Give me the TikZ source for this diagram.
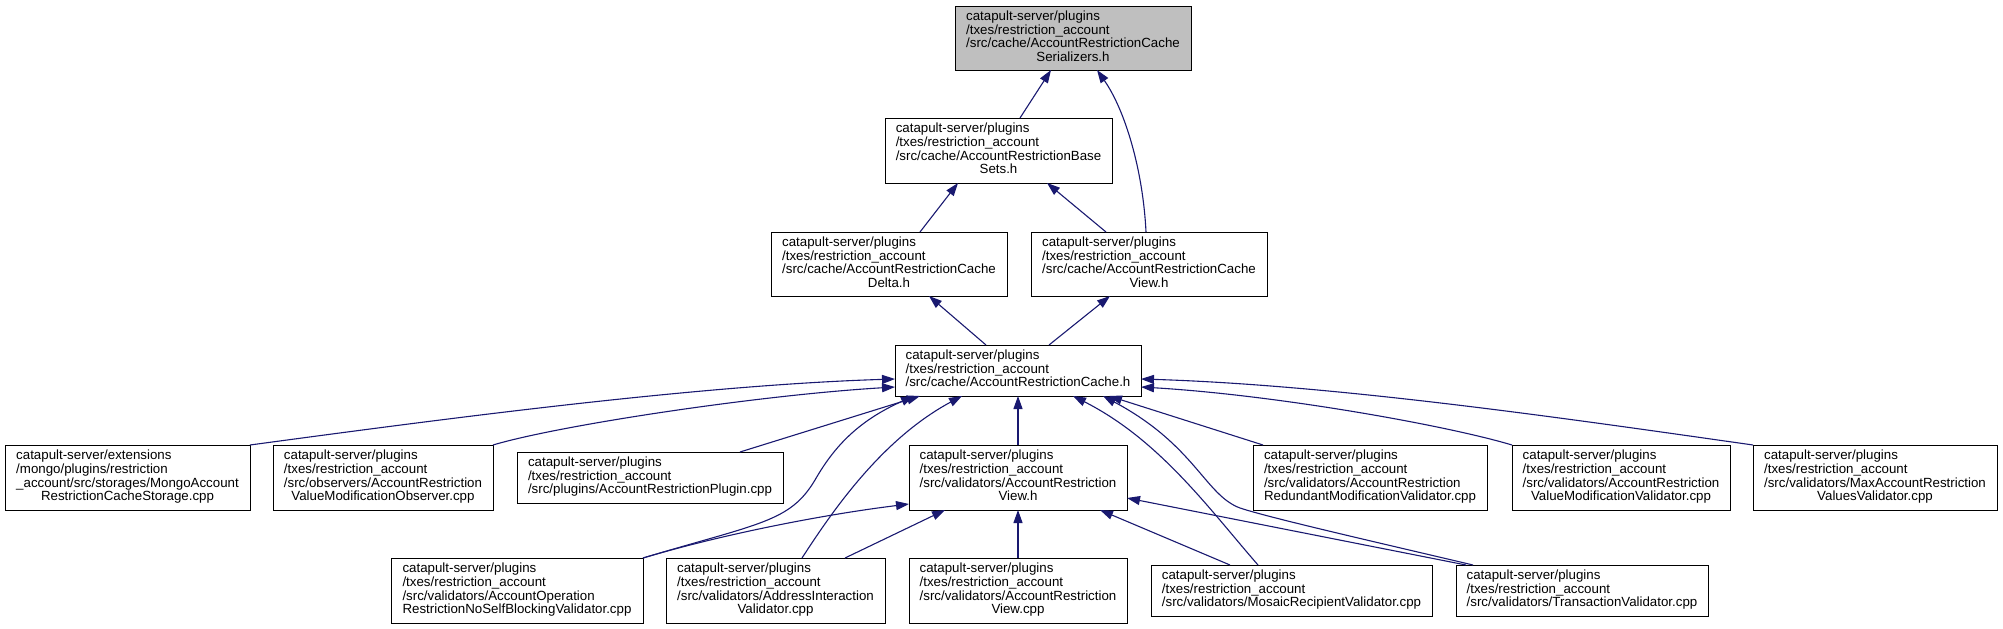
\documentclass[tikz,border=0pt]{standalone}
\usepackage{fontspec}
\setmainfont{Liberation Sans}
\usetikzlibrary{arrows.meta}
\definecolor{edgec}{HTML}{191970}
\definecolor{topgray}{HTML}{BFBFBF}
\newcommand\tb[1]{\begin{tabular}{@{}l@{}}#1\end{tabular}}
\newcommand\lc[1]{\multicolumn{1}{@{}c@{}}{#1}}
\begin{document}
\begin{tikzpicture}[x=1pt,y=-1pt,
  box/.style={draw=black, fill=white, line width=1pt, rectangle, inner sep=0pt, outer sep=0pt,
    font=\fontsize{13.3}{13.3}\selectfont},
  edge/.style={draw=edgec, line width=1.1pt, -{Triangle[length=13pt,width=9pt]}}]
\useasboundingbox (0,0) rectangle (2003,629);
% rank 1
\node[box, fill=topgray, minimum width=236pt, minimum height=64pt] (ser) at (1073,38)
  {\tb{catapult-server/plugins\\/txes/restriction\_account\\/src/cache/AccountRestrictionCache\\\lc{Serializers.h}}};
% rank 2
\node[box, minimum width=227pt, minimum height=65pt] (base) at (998.5,150.5)
  {\tb{catapult-server/plugins\\/txes/restriction\_account\\/src/cache/AccountRestrictionBase\\\lc{Sets.h}}};
% rank 3
\node[box, minimum width=236pt, minimum height=64pt] (delta) at (889,264)
  {\tb{catapult-server/plugins\\/txes/restriction\_account\\/src/cache/AccountRestrictionCache\\\lc{Delta.h}}};
\node[box, minimum width=236pt, minimum height=64pt] (cview) at (1149,264)
  {\tb{catapult-server/plugins\\/txes/restriction\_account\\/src/cache/AccountRestrictionCache\\\lc{View.h}}};
% rank 4
\node[box, minimum width=246pt, minimum height=51pt] (cache) at (1018,370.5)
  {\tb{catapult-server/plugins\\/txes/restriction\_account\\/src/cache/AccountRestrictionCache.h}};
% rank 5
\node[box, minimum width=245pt, minimum height=65pt] (mongo) at (127.5,477.5)
  {\tb{catapult-server/extensions\\/mongo/plugins/restriction\\\_account/src/storages/MongoAccount\\\lc{RestrictionCacheStorage.cpp}}};
\node[box, minimum width=220pt, minimum height=65pt] (obs) at (383,477.5)
  {\tb{catapult-server/plugins\\/txes/restriction\_account\\/src/observers/AccountRestriction\\\lc{ValueModificationObserver.cpp}}};
\node[box, minimum width=266pt, minimum height=51pt] (plug) at (650,477.5)
  {\tb{catapult-server/plugins\\/txes/restriction\_account\\/src/plugins/AccountRestrictionPlugin.cpp}};
\node[box, minimum width=218pt, minimum height=65pt] (vview) at (1018,477.5)
  {\tb{catapult-server/plugins\\/txes/restriction\_account\\/src/validators/AccountRestriction\\\lc{View.h}}};
\node[box, minimum width=234pt, minimum height=65pt] (redund) at (1370,477.5)
  {\tb{catapult-server/plugins\\/txes/restriction\_account\\/src/validators/AccountRestriction\\\lc{RedundantModificationValidator.cpp}}};
\node[box, minimum width=218pt, minimum height=65pt] (valmod) at (1621,477.5)
  {\tb{catapult-server/plugins\\/txes/restriction\_account\\/src/validators/AccountRestriction\\\lc{ValueModificationValidator.cpp}}};
\node[box, minimum width=244pt, minimum height=65pt] (maxv) at (1875,477.5)
  {\tb{catapult-server/plugins\\/txes/restriction\_account\\/src/validators/MaxAccountRestriction\\\lc{ValuesValidator.cpp}}};
% rank 6
\node[box, minimum width=252pt, minimum height=65pt] (noself) at (517,590.5)
  {\tb{catapult-server/plugins\\/txes/restriction\_account\\/src/validators/AccountOperation\\\lc{RestrictionNoSelfBlockingValidator.cpp}}};
\node[box, minimum width=219pt, minimum height=65pt] (addr) at (775.5,590.5)
  {\tb{catapult-server/plugins\\/txes/restriction\_account\\/src/validators/AddressInteraction\\\lc{Validator.cpp}}};
\node[box, minimum width=218pt, minimum height=65pt] (vcpp) at (1018,590.5)
  {\tb{catapult-server/plugins\\/txes/restriction\_account\\/src/validators/AccountRestriction\\\lc{View.cpp}}};
\node[box, minimum width=281pt, minimum height=51pt] (mosaic) at (1291.5,590.5)
  {\tb{catapult-server/plugins\\/txes/restriction\_account\\/src/validators/MosaicRecipientValidator.cpp}};
\node[box, minimum width=252pt, minimum height=51pt] (trans) at (1582,590.5)
  {\tb{catapult-server/plugins\\/txes/restriction\_account\\/src/validators/TransactionValidator.cpp}};
% edges
\draw[edge] ([xshift=21.5pt]base.north) -- ([xshift=-22pt]ser.south);
\draw[edge] ([xshift=-3pt]cview.north) .. controls (1143,170) and (1125,110) .. ([xshift=24pt]ser.south);
\draw[edge] ([xshift=31pt]delta.north) -- ([xshift=-40.5pt]base.south);
\draw[edge] ([xshift=-43pt]cview.north) -- ([xshift=48.5pt]base.south);
\draw[edge] ([xshift=-32pt]cache.north) -- ([xshift=40pt]delta.south);
\draw[edge] ([xshift=31pt]cache.north) -- ([xshift=-39pt]cview.south);
\draw[edge] (mongo.north east) .. controls (450,418) and (700,385) .. ([yshift=-8.5pt]cache.west);
\draw[edge] (obs.north east) .. controls (560,425) and (760,395) .. ([yshift=-16.5pt]cache.west);
\draw[edge] ([xshift=90pt]plug.north) -- ([xshift=-98pt]cache.south);
\draw[edge] (noself.north east) .. controls (760,523) and (790,522) .. (815,480) .. controls (835,445) and (860,420) .. ([xshift=-104pt]cache.south);
\draw[edge] ([xshift=26.5pt]addr.north) .. controls (830,515) and (880,440) .. ([xshift=-56pt]cache.south);
\draw[edge] (vview.north) -- (cache.south);
\draw[edge] ([xshift=-33.5pt]mosaic.north) .. controls (1210,510) and (1160,440) .. ([xshift=55pt]cache.south);
\draw[edge] ([xshift=-109pt]trans.north) .. controls (1380,543) and (1270,518) .. (1240,508) .. controls (1205,495) and (1195,445) .. ([xshift=85pt]cache.south);
\draw[edge] ([xshift=-107pt]redund.north) -- ([xshift=91pt]cache.south);
\draw[edge] (valmod.north west) .. controls (1445,425) and (1276,395) .. ([yshift=-16.5pt]cache.east);
\draw[edge] (maxv.north west) .. controls (1563,418) and (1336,385) .. ([yshift=-8.5pt]cache.east);
\draw[edge] (noself.north east) .. controls (720,535) and (820,515) .. ([yshift=-26.5pt]vview.west);
\draw[edge] ([xshift=69.5pt]addr.north) -- ([xshift=-73pt]vview.south);
\draw[edge] (vcpp.north) -- (vview.south);
\draw[edge] ([xshift=-61.5pt]mosaic.north) -- ([xshift=82pt]vview.south);
\draw[edge] ([xshift=-116pt]trans.north) -- ([yshift=-20.5pt]vview.east);
\end{tikzpicture}
\end{document}
